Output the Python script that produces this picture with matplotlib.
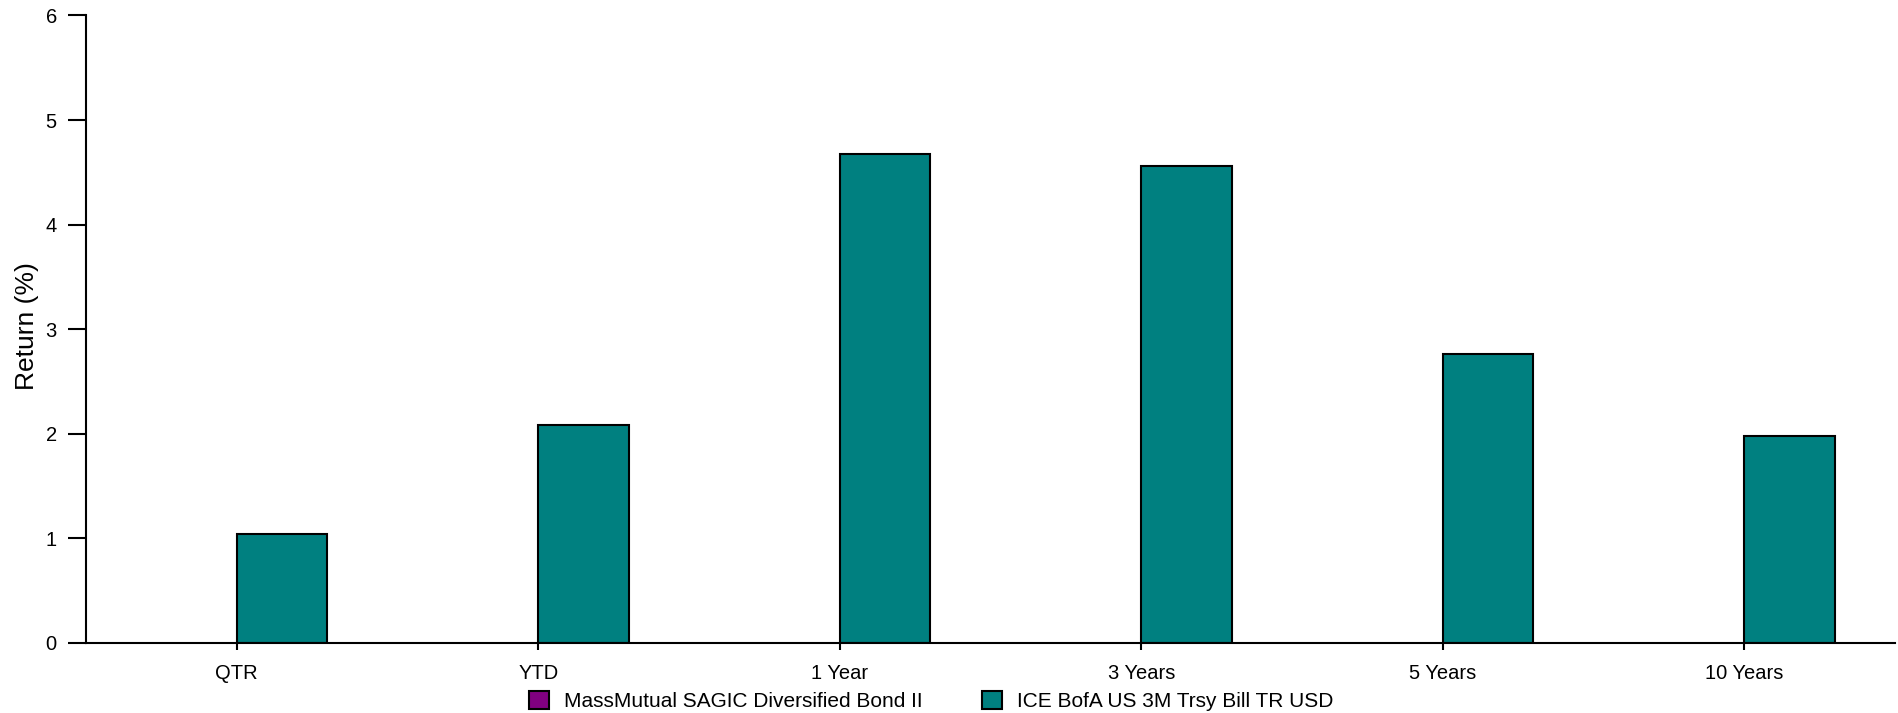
import numpy as np
import matplotlib
matplotlib.use("Agg")
import matplotlib.pyplot as plt
from matplotlib.patches import Patch

plt.rcParams['font.family'] = ['Liberation Sans', 'DejaVu Sans']

categories = ["QTR", "YTD", "1 Year", "3 Years", "5 Years", "10 Years"]
fund_name = "MassMutual SAGIC Diversified Bond II"
bench_name = "ICE BofA US 3M Trsy Bill TR USD"
fund_values = [np.nan, np.nan, np.nan, np.nan, np.nan, np.nan]
bench_values = [1.04, 2.08, 4.68, 4.56, 2.76, 1.98]
yticks = [0, 1, 2, 3, 4, 5, 6]

fund_color = "#800080"
bench_color = "#008080"

fig = plt.figure(figsize=(18.99, 7.13), dpi=100)
ax = fig.add_axes([0.04529, 0.0982, 0.95260, 0.8801])

x = np.arange(len(categories))
w = 0.30
ax.bar(x - w / 2, fund_values, width=w, color=fund_color, edgecolor="black", linewidth=1.5)
ax.bar(x + w / 2, bench_values, width=w, color=bench_color, edgecolor="black", linewidth=1.5)

ax.set_xlim(-0.5, len(categories) - 0.5)
ax.set_ylim(0, 6)
ax.set_yticks(yticks)
ax.set_yticklabels([str(t) for t in yticks])
ax.set_xticks(x)
ax.set_xticklabels(categories)

for s in ["top", "right"]:
    ax.spines[s].set_visible(False)
for s in ["left", "bottom"]:
    ax.spines[s].set_linewidth(1.5)
    ax.spines[s].set_color("black")

ax.tick_params(axis="y", length=13, width=1.5, pad=8, labelsize=14.5, colors="black")
ax.tick_params(axis="x", length=5, width=1.5, pad=10, labelsize=14.5, colors="black")

ax.set_ylabel("Return (%)", fontsize=19)
ax.yaxis.set_label_coords(-0.0262, 0.505)

handles = [Patch(facecolor=fund_color, edgecolor="black", linewidth=1.5),
           Patch(facecolor=bench_color, edgecolor="black", linewidth=1.5)]
fig.legend(handles, [fund_name, bench_name], loc="center",
           bbox_to_anchor=(0.4905, 0.0170), bbox_transform=fig.transFigure,
           ncol=2, frameon=False, fontsize=15, handlelength=0.95, handleheight=0.95,
           handletextpad=0.72, columnspacing=2.85, borderpad=0, borderaxespad=0)

fig.savefig("out.png", dpi=100)
